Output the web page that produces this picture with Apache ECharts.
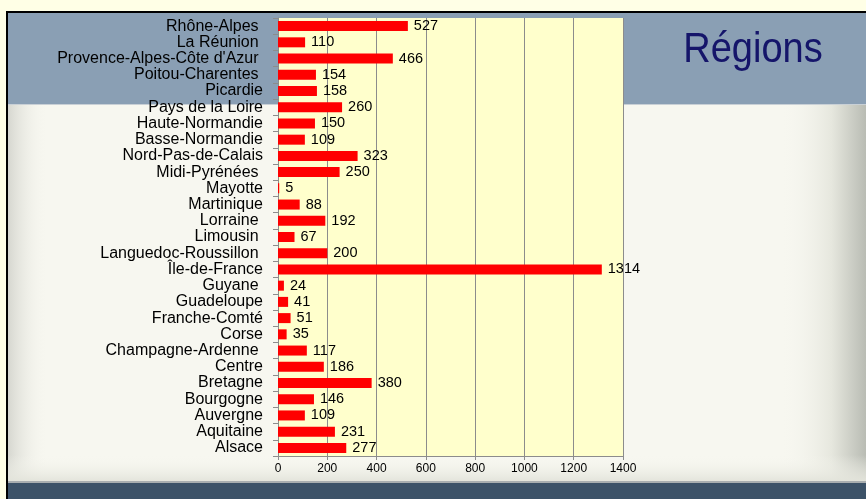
<!DOCTYPE html>
<html>
<head>
<meta charset="utf-8">
<script src="https://cdn.jsdelivr.net/npm/echarts@6/dist/echarts.min.js"></script>
<style>
  html, body { margin: 0; padding: 0; background: #FFFFE6; overflow: hidden; }
  #chart { width: 866px; height: 499px; }
</style>
</head>
<body>
<div id="chart"></div>
<script>
// régions, de haut en bas (espaces finaux comme dans l'original)
var regions = [
  "Rhône-Alpes ", "La Réunion ", "Provence-Alpes-Côte d'Azur ", "Poitou-Charentes ",
  "Picardie", "Pays de la Loire", "Haute-Normandie", "Basse-Normandie",
  "Nord-Pas-de-Calais", "Midi-Pyrénées ", "Mayotte", "Martinique", "Lorraine ",
  "Limousin ", "Languedoc-Roussillon ", "Île-de-France", "Guyane ", "Guadeloupe",
  "Franche-Comté", "Corse", "Champagne-Ardenne ", "Centre", "Bretagne",
  "Bourgogne", "Auvergne", "Aquitaine", "Alsace"
];
var valeurs = [
  527, 110, 466, 154,
  158, 260, 150, 109,
  323, 250, 5, 88, 192,
  67, 200, 1314, 24, 41,
  51, 35, 117, 186, 380,
  146, 109, 231, 277
];
var xTicks = [0, 200, 400, 600, 800, 1000, 1200, 1400];

var chart = echarts.init(document.getElementById("chart"));
var font = "'Liberation Sans', Arial, sans-serif";

var option = {
  backgroundColor: "#FFFFE6",
  animation: false,
  graphic: [
    // cadre de la diapo (trait noir haut et gauche)
    { type: "rect", shape: { x: 6, y: 11, width: 860, height: 2 }, style: { fill: "#000" }, z: -10 },
    { type: "rect", shape: { x: 6, y: 11, width: 2, height: 488 }, style: { fill: "#000" }, z: -10 },
    { type: "rect", shape: { x: 8, y: 13, width: 858, height: 486 }, style: { fill: "#F7F7F0" }, z: -10 },
    // bords ombrés
    { type: "rect", shape: { x: 8, y: 104, width: 40, height: 378 }, z: -9,
      style: { fill: new echarts.graphic.LinearGradient(0, 0, 1, 0, [
        { offset: 0, color: "#D6D7D0" }, { offset: 1, color: "rgba(247,247,240,0)" }]) } },
    { type: "rect", shape: { x: 780, y: 104, width: 86, height: 378 }, z: -9,
      style: { fill: new echarts.graphic.LinearGradient(0, 0, 1, 0, [
        { offset: 0, color: "rgba(247,247,240,0)" }, { offset: 0.6, color: "#E6E7DE" }, { offset: 1, color: "#B9BCB4" }]) } },
    { type: "rect", shape: { x: 8, y: 455, width: 858, height: 27 }, z: -9,
      style: { fill: new echarts.graphic.LinearGradient(0, 0, 0, 1, [
        { offset: 0, color: "rgba(247,247,240,0)" }, { offset: 1, color: "#E2E3DA" }]) } },
    // bandeau du haut
    { type: "rect", shape: { x: 8, y: 13, width: 858, height: 91 }, style: { fill: "#8A9FB4" }, z: -8 },
    { type: "rect", shape: { x: 8, y: 104, width: 858, height: 1 }, style: { fill: "#C9D0D6" }, z: -8 },
    // bandeau du bas
    { type: "rect", shape: { x: 8, y: 481, width: 858, height: 2 }, style: { fill: "#A9AEB0" }, z: -8 },
    { type: "rect", shape: { x: 8, y: 483, width: 858, height: 16 }, style: { fill: "#3C5268" }, z: -8 },
    // titre
    { type: "text", x: 753, y: 50, scaleY: 1.12,
      style: { text: "Régions", fill: "#15156A", font: "38px " + font, align: "center", verticalAlign: "middle" }, z: 5 }
  ],
  grid: {
    left: 278, top: 18, width: 345, height: 438,
    show: true, backgroundColor: "#FFFFCC", borderWidth: 0, containLabel: false
  },
  xAxis: {
    type: "value", min: 0, max: 1400, interval: 200,
    axisLine: { show: true, lineStyle: { color: "#8C8C8C", width: 1 } },
    axisTick: { show: true, length: 4, lineStyle: { color: "#8C8C8C" } },
    axisLabel: {
      margin: 7, color: "#000", fontFamily: font, fontSize: 12,
      formatter: function (v) { return xTicks.indexOf(v) >= 0 ? String(v) : ""; }
    },
    splitLine: { show: true, lineStyle: { color: "#8C8C8C", width: 1 } }
  },
  yAxis: {
    type: "category", data: regions, inverse: true,
    axisLine: { show: true, lineStyle: { color: "#8C8C8C", width: 1 } },
    axisTick: { show: true, length: 5, lineStyle: { color: "#8C8C8C" } },
    axisLabel: { margin: 15, color: "#000", fontFamily: font, fontSize: 16, interval: 0 },
    splitLine: { show: false }
  },
  series: [{
    type: "bar",
    data: valeurs,
    barWidth: 10,
    itemStyle: { color: "#FF0000" },
    label: {
      show: true, position: "right", distance: 6,
      color: "#000", fontFamily: font, fontSize: 14.5
    }
  }]
};
chart.setOption(option);
</script>
</body>
</html>
